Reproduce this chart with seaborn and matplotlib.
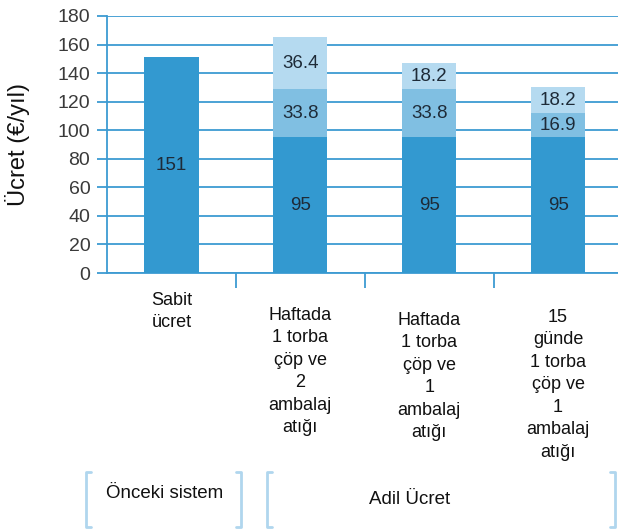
import numpy as np
import pandas as pd
import matplotlib
matplotlib.use("Agg")
import matplotlib.pyplot as plt
from matplotlib.lines import Line2D
from matplotlib.transforms import blended_transform_factory
import seaborn as sns

sns.set_style("white")
plt.rcParams['font.family'] = ['Liberation Sans', 'DejaVu Sans']

categories = ["Sabit\nücret",
              "Haftada\n1 torba\nçöp ve\n2\nambalaj\natığı",
              "Haftada\n1 torba\nçöp ve\n1\nambalaj\natığı",
              "15\ngünde\n1 torba\nçöp ve\n1\nambalaj\natığı"]
base_values = [151, 95, 95, 95]
mid_values = [0, 33.8, 33.8, 16.9]
top_values = [0, 36.4, 18.2, 18.2]
group_names = ["Önceki sistem", "Adil Ücret"]
y_ticks = [0, 20, 40, 60, 80, 100, 120, 140, 160, 180]

DARK = "#3399d0"
MID = "#80bfe2"
LIGHT = "#b5daf0"
LINE = "#3d9bd2"
BRACKET = "#b0d6ee"
TXT = "#1e2b38"

df = pd.DataFrame({
    "cat": [str(i) for i in range(len(categories))],
    "base": base_values,
    "mid": mid_values,
    "top": top_values,
})
df["mid_total"] = df["base"] + df["mid"]
df["top_total"] = df["mid_total"] + df["top"]

W, H = 618, 529
fig = plt.figure(figsize=(W / 100, H / 100), dpi=100)
ax = fig.add_axes([107 / W, 1 - 273 / H, (W - 107) / W, 257 / H])

for g in y_ticks:
    ax.axhline(g, color=LINE, lw=1.3, zorder=0)

# stacked look: draw totals first, then smaller layers on top
bar_kw = dict(saturation=1, width=0.42, ax=ax, edgecolor="none", linewidth=0)
sns.barplot(data=df, x="cat", y="top_total", color=LIGHT, zorder=2, **bar_kw)
sns.barplot(data=df, x="cat", y="mid_total", color=MID, zorder=3, **bar_kw)
sns.barplot(data=df, x="cat", y="base", color=DARK, zorder=4, **bar_kw)

ax.set_ylim(0, 180)
ax.set_xlim(-0.5, 3.465)
ax.set_xlabel("")
ax.set_ylabel("Ücret (€/yıl)", fontsize=17, labelpad=20, color="#111111")
ax.set_yticks(y_ticks)
ax.set_yticklabels([str(t) for t in y_ticks], fontsize=14, color="#3a3a3a")
ax.tick_params(axis="y", length=7, width=1.3, color=LINE, pad=5, left=True)
ax.set_xticks([0, 1, 2, 3])
ax.set_xticklabels([])
ax.tick_params(axis="x", which="major", length=0)
ax.set_xticks([0.5, 1.5, 2.5], minor=True)
ax.tick_params(axis="x", which="minor", length=11, width=1.3, color=LINE, direction="out", bottom=True)

for side in ["top", "right"]:
    ax.spines[side].set_visible(False)
ax.spines["left"].set_color(LINE)
ax.spines["left"].set_linewidth(1.3)
ax.spines["bottom"].set_color(LINE)
ax.spines["bottom"].set_linewidth(1.3)
ax.spines["left"].set_zorder(5)

# value labels
for i in range(len(categories)):
    b, m, t = base_values[i], mid_values[i], top_values[i]
    ax.text(i, b / 2 if i else 75, f"{b:g}", ha="center", va="center", fontsize=13.5, color=TXT, zorder=6)
    if m:
        ax.text(i, b + m / 2, f"{m:g}", ha="center", va="center", fontsize=13.5, color=TXT, zorder=6)
    if t:
        ax.text(i, b + m + t / 2, f"{t:g}", ha="center", va="center", fontsize=13.5, color=TXT, zorder=6)

# category labels below axis
tr = blended_transform_factory(ax.transData, fig.transFigure)
label_tops = [292, 307, 312, 309]
for i, lab in enumerate(categories):
    fig.text(i, 1 - label_tops[i] / H, lab, transform=tr, ha="center", va="top",
             fontsize=13, linespacing=1.42, color="#111111")


def bracket(x0, x1, y0=472, y1=527, s=5):
    for xs, ys in [([x0 + s, x0, x0, x0 + s], [y0, y0, y1, y1]),
                   ([x1 - s, x1, x1, x1 - s], [y0, y0, y1, y1])]:
        fig.add_artist(Line2D([x / W for x in xs], [1 - y / H for y in ys],
                              color=BRACKET, lw=2))


bracket(86, 241)
bracket(267, 615)
fig.text(165 / W, 1 - 493 / H, group_names[0], ha="center", va="center", fontsize=13.5, color="#111111")
fig.text(410 / W, 1 - 500 / H, group_names[1], ha="center", va="center", fontsize=13.5, color="#111111")

fig.savefig("out.png", dpi=100)
